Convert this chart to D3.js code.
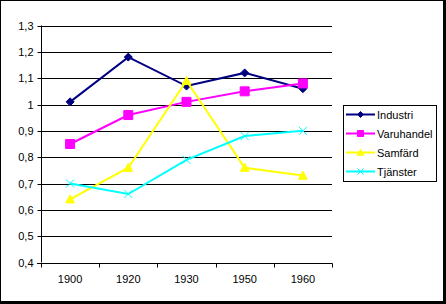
<!DOCTYPE html>
<html>
<head>
<meta charset="utf-8">
<script src="https://cdn.jsdelivr.net/npm/d3@7"></script>
<style>
  html, body { margin: 0; padding: 0; background: #fff; }
  svg { display: block; font-family: "Liberation Sans", Arial, sans-serif; }
</style>
</head>
<body>
<svg id="chart" width="446" height="304"></svg>
<script>
const years = ["1900", "1920", "1930", "1950", "1960"]
const yTicks = [0.4, 0.5, 0.6, 0.7, 0.8, 0.9, 1.0, 1.1, 1.2, 1.3]

const industri = [1.01, 1.18, 1.07, 1.12, 1.06]
const varuhandel = [0.85, 0.96, 1.01, 1.05, 1.08]
const samfard = [0.64, 0.76, 1.09, 0.76, 0.73]
const tjanster = [0.70, 0.66, 0.79, 0.88, 0.90]

const series = [
  { name: "Industri", values: industri, color: "#000080", marker: "diamond" },
  { name: "Varuhandel", values: varuhandel, color: "#ff00ff", marker: "square" },
  { name: "Samfärd", values: samfard, color: "#ffff00", marker: "triangle" },
  { name: "Tjänster", values: tjanster, color: "#00ffff", marker: "cross" }
]

const svg = d3.select("#chart")
const W = 446, H = 304

// Frame with shadow on right/bottom
svg.append("rect").attr("x", 0).attr("y", 0).attr("width", W).attr("height", H).attr("fill", "#000")
svg.append("rect").attr("x", 1).attr("y", 1).attr("width", W - 4).attr("height", H - 4).attr("fill", "#fff")

const plot = { left: 41, right: 332, top: 25.5, bottom: 262.5 }

const x = d3.scaleBand().domain(years).range([plot.left, plot.right])
const y = d3.scaleLinear().domain([0.4, 1.3]).range([plot.bottom, plot.top])
const fmt = d => d3.format(".1f")(d).replace(".", ",").replace(/^1,0$/, "1")

// Gridlines
svg.append("g")
  .selectAll("line")
  .data(yTicks.slice(1))
  .join("line")
  .attr("x1", plot.left)
  .attr("x2", plot.right)
  .attr("y1", d => Math.round(y(d)) + 0.5)
  .attr("y2", d => Math.round(y(d)) + 0.5)
  .attr("stroke", "#000")

// Y axis
const yAxis = svg.append("g")
  .attr("transform", `translate(${plot.left + 0.5},0)`)
  .call(d3.axisLeft(y).tickValues(yTicks).tickSize(4).tickPadding(4).tickFormat(fmt))
yAxis.select(".domain").attr("d", `M0,${plot.top}V${plot.bottom}`)
yAxis.selectAll(".tick").attr("transform", d => `translate(0,${Math.round(y(d)) + 0.5})`)
yAxis.selectAll("text").attr("font-size", 11).attr("font-family", "Liberation Sans, Arial, sans-serif").attr("fill", "#000")

// X axis
const xAxis = svg.append("g")
  .attr("transform", `translate(0,${Math.round(plot.bottom) + 0.5})`)
xAxis.append("line")
  .attr("x1", plot.left - 4).attr("x2", plot.right + 0.5)
  .attr("stroke", "#000")
const edges = years.map(d => x(d)).concat([plot.right])
xAxis.selectAll("line.tk")
  .data(edges)
  .join("line")
  .attr("class", "tk")
  .attr("x1", d => Math.round(d) + 0.5)
  .attr("x2", d => Math.round(d) + 0.5)
  .attr("y1", 0).attr("y2", 4)
  .attr("stroke", "#000")
xAxis.selectAll("text")
  .data(years)
  .join("text")
  .attr("x", d => x(d) + x.bandwidth() / 2)
  .attr("y", 19)
  .attr("text-anchor", "middle")
  .attr("font-size", 11)
  .attr("fill", "#000")
  .text(d => d)

function markerPath(type, size) {
  const s = size
  if (type === "diamond") return `M0,${-s}L${s},0L0,${s}L${-s},0Z`
  if (type === "square") return `M${-s},${-s}H${s}V${s}H${-s}Z`
  if (type === "triangle") return `M0,${-s * 1.1}L${s * 1.1},${s * 0.9}L${-s * 1.1},${s * 0.9}Z`
  return `M${-s},${-s}L${s},${s}M${-s},${s}L${s},${-s}`
}

const cx = d => x(d) + x.bandwidth() / 2
const line = d3.line().x((v, i) => cx(years[i])).y(v => y(v))

series.forEach(s => {
  const g = svg.append("g")
  g.append("path")
    .datum(s.values)
    .attr("d", line)
    .attr("fill", "none")
    .attr("stroke", s.color)
    .attr("stroke-width", 2)
  g.selectAll("path.m")
    .data(s.values)
    .join("path")
    .attr("class", "m")
    .attr("transform", (v, i) => `translate(${cx(years[i])},${y(v)})`)
    .attr("d", markerPath(s.marker, s.marker === "cross" ? 4 : s.marker === "square" ? 4.5 : 4))
    .attr("fill", s.marker === "cross" ? "none" : s.color)
    .attr("stroke", s.color)
    .attr("stroke-width", 1)
})

// Legend
const legend = svg.append("g")
legend.append("rect")
  .attr("x", 343.5).attr("y", 105.5)
  .attr("width", 93).attr("height", 76)
  .attr("fill", "#fff").attr("stroke", "#000")
const items = legend.selectAll("g.item")
  .data(series)
  .join("g")
  .attr("class", "item")
  .attr("transform", (d, i) => `translate(0,${114.5 + i * 19})`)
items.append("line")
  .attr("x1", 346).attr("x2", 375)
  .attr("stroke", d => d.color)
  .attr("stroke-width", 2)
items.append("path")
  .attr("transform", "translate(360.5,0)")
  .attr("d", d => markerPath(d.marker, 3))
  .attr("fill", d => d.marker === "cross" ? "none" : d.color)
  .attr("stroke", d => d.color)
items.append("text")
  .attr("x", 377)
  .attr("y", 4)
  .attr("font-size", 11)
  .attr("fill", "#000")
  .text(d => d.name)
</script>
</body>
</html>
